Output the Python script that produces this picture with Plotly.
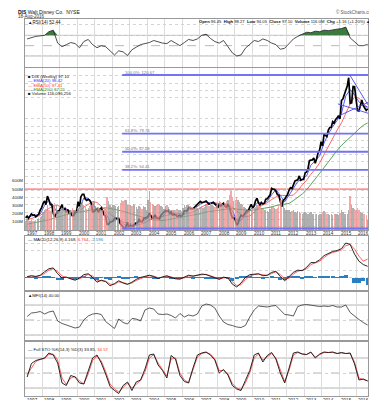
import plotly.graph_objects as go
import numpy as np

# ---------------- data ----------------
years = list(range(1997, 2017))

# monthly closes, Jan 1997 .. Aug 2016
close = [
    20.9, 22.1, 20.7, 22.4, 23.6, 22.8, 23.0, 21.7, 22.9, 23.4, 26.4, 28.1,
    31.0, 32.7, 30.1, 36.1, 33.5, 30.1, 30.1, 24.1, 21.5, 23.2, 25.8, 25.8,
    28.4, 30.1, 26.7, 27.5, 24.9, 26.7, 24.1, 24.1, 22.4, 22.4, 24.9, 24.9,
    32.2, 28.7, 35.7, 37.4, 37.4, 33.9, 33.1, 33.9, 33.1, 31.3, 25.2, 25.2,
    26.4, 27.3, 25.2, 26.4, 27.8, 25.5, 22.9, 22.0, 16.4, 16.4, 18.0, 18.2,
    18.7, 20.5, 20.5, 20.5, 20.5, 16.9, 15.8, 14.0, 13.4, 14.9, 17.6, 14.5,
    15.8, 15.1, 15.3, 16.8, 17.6, 17.8, 19.8, 18.3, 18.2, 20.3, 20.8, 21.0,
    21.6, 24.3, 22.5, 20.7, 21.2, 23.0, 20.7, 20.3, 20.3, 22.7, 24.2, 25.0,
    26.0, 25.4, 26.1, 24.0, 24.9, 22.9, 23.3, 22.9, 21.9, 22.2, 22.7, 21.8,
    23.3, 25.8, 25.7, 25.8, 28.1, 27.6, 27.3, 27.2, 28.4, 29.0, 30.4, 31.6,
    32.4, 31.5, 31.6, 32.2, 32.6, 31.4, 30.4, 30.9, 31.6, 31.8, 30.5, 29.7,
    27.8, 30.1, 29.2, 30.1, 31.2, 29.0, 28.3, 30.1, 28.6, 24.1, 20.9, 21.1,
    19.5, 15.8, 17.1, 20.6, 22.7, 21.9, 23.6, 24.4, 25.9, 25.8, 28.4, 30.3,
    27.8, 29.3, 32.8, 34.6, 31.4, 29.6, 31.7, 30.6, 31.1, 33.9, 34.3, 35.3,
    37.0, 41.5, 40.9, 40.9, 39.5, 37.1, 36.7, 32.5, 28.7, 33.2, 34.0, 35.6,
    37.3, 40.3, 42.0, 41.4, 43.9, 46.6, 47.1, 47.5, 50.2, 47.1, 47.7, 47.8,
    52.3, 53.0, 55.1, 60.9, 61.2, 61.3, 62.8, 59.1, 62.6, 66.5, 68.4, 74.1,
    71.1, 79.3, 78.5, 77.7, 82.3, 84.0, 84.2, 88.2, 87.2, 89.6, 90.7, 92.3,
    90.1, 103.0, 103.9, 107.6, 109.3, 113.0, 118.8, 100.9, 101.2, 112.6, 112.4, 104.0,
    95.8, 95.5, 99.3, 103.3, 99.2, 97.8, 96.0, 97.1,
]

# monthly volume (millions of shares per week)
volume_m = [
    110, 130, 120, 110, 120, 110, 115, 120, 130, 150, 160, 170,
    220, 250, 260, 300, 250, 230, 240, 290, 330, 300, 250, 230,
    260, 270, 290, 240, 250, 230, 220, 240, 270, 250, 240, 230,
    270, 290, 320, 340, 300, 280, 260, 270, 290, 310, 340, 350,
    290, 270, 280, 260, 240, 250, 270, 280, 400, 350, 300, 280,
    300, 310, 290, 280, 290, 330, 370, 350, 370, 360, 310, 300,
    310, 290, 320, 300, 280, 260, 290, 280, 260, 290, 280, 250,
    360, 470, 340, 320, 300, 290, 310, 320, 300, 290, 280, 260,
    290, 300, 280, 260, 250, 240, 250, 240, 260, 250, 240, 230,
    270, 300, 280, 300, 310, 290, 280, 270, 260, 280, 270, 260,
    280, 290, 270, 280, 310, 300, 290, 330, 310, 290, 280, 300,
    330, 350, 340, 320, 310, 330, 350, 370, 430, 470, 400, 350,
    360, 400, 370, 340, 320, 300, 280, 270, 260, 250, 240, 230,
    260, 270, 280, 300, 320, 290, 270, 260, 250, 240, 230, 220,
    260, 290, 280, 270, 260, 270, 290, 360, 370, 320, 270, 240,
    250, 240, 220, 230, 240, 220, 210, 230, 220, 210, 200, 210,
    220, 210, 200, 210, 220, 200, 190, 200, 190, 180, 190, 200,
    220, 230, 210, 200, 190, 180, 190, 180, 190, 200, 190, 180,
    210, 240, 220, 200, 190, 200, 240, 410, 300, 270, 260, 250,
    270, 250, 220, 210, 200, 190, 180, 116,
]

# quarterly samples (mid Feb / May / Aug / Nov), 1997 .. Aug 2016
ma_fast = [21.0, 22.2, 22.8, 23.6, 29.6, 33.1, 29.5, 23.7, 27.5, 27.3, 25.0, 23.5,
           27.7, 34.8, 34.6, 30.9, 26.0, 26.7, 24.6, 18.2, 18.9, 20.5, 16.8, 15.0,
           15.8, 16.2, 18.4, 19.4, 21.9, 22.2, 21.3, 21.9, 25.2, 25.1, 23.5, 22.4,
           23.4, 26.4, 27.6, 28.8, 31.5, 32.0, 31.3, 31.2, 29.5, 30.2, 29.7, 25.9,
           19.3, 19.1, 23.2, 26.1, 29.0, 32.0, 30.8, 32.5, 37.0, 40.7, 36.5, 32.1,
           36.8, 41.9, 46.3, 48.1, 50.2, 57.6, 61.1, 64.2, 73.2, 79.5, 84.7, 88.9,
           94.0, 106.0, 110.5, 106.8, 101.9, 99.3, 98.42]
ma_mid = [19.5, 20.5, 21.5, 22.6, 24.9, 27.6, 29.0, 29.7, 28.2, 26.5, 25.7, 25.7,
          25.8, 28.4, 30.6, 32.2, 31.7, 29.1, 26.5, 23.3, 21.5, 20.0, 18.0, 17.6,
          16.6, 15.6, 16.4, 17.5, 19.3, 20.5, 21.2, 21.9, 22.7, 23.6, 24.0, 23.9,
          23.5, 23.9, 25.0, 26.7, 28.8, 30.2, 31.0, 31.5, 30.9, 30.4, 30.0, 28.3,
          25.7, 23.2, 21.7, 22.2, 24.8, 28.0, 29.9, 31.5, 33.7, 35.5, 36.7, 36.4,
          36.4, 36.9, 39.8, 43.9, 47.2, 51.4, 54.9, 59.3, 65.2, 70.3, 76.4, 82.2,
          87.3, 94.2, 100.5, 105.4, 104.5, 101.0, 97.41]
ma_slow = [16.5, 17.0, 17.5, 18.0, 18.5, 19.5, 20.5, 21.5, 22.5, 23.5, 24.0, 24.5,
           25.0, 26.0, 26.5, 27.0, 27.5, 28.0, 28.0, 27.5, 27.0, 26.5, 25.5, 24.5,
           23.5, 22.5, 21.5, 20.5, 20.0, 19.5, 19.0, 19.0, 19.5, 20.0, 20.5, 21.0,
           21.5, 22.5, 23.0, 23.5, 24.0, 25.0, 25.5, 26.0, 26.5, 27.0, 27.5, 27.5,
           27.0, 26.5, 26.0, 26.0, 26.5, 27.0, 27.0, 27.5, 28.5, 29.5, 30.0, 30.0,
           31.0, 33.0, 35.0, 37.5, 40.5, 44.0, 48.0, 52.0, 56.0, 60.0, 64.0, 68.0,
           71.5, 74.5, 77.0, 80.0, 83.0, 85.5, 87.25]
rsi = [63, 66, 68, 69, 70, 77, 80, 55, 48, 52, 56, 54, 46, 58, 62, 52, 46, 50, 48, 40,
       32, 40, 38, 31, 42, 47, 52, 54, 56, 60, 57, 55, 54, 60, 55, 50, 56, 62, 60, 63,
       70, 72, 64, 58, 55, 60, 48, 36, 30, 32, 45, 52, 60, 58, 63, 60, 55, 52, 43, 45,
       55, 63, 68, 72, 76, 75, 78, 77, 80, 79, 81, 82, 83, 86, 65, 58, 50, 50, 52.44]
macd = [0.5, 0.8, 0.5, 1.0, 2.2, 3.3, 3.6, 1.5, 0.0, 0.3, -0.3, -0.8, 0.0, 1.2, 1.5, 0.2,
        -1.5, -0.8, -1.3, -2.8, -2.0, -1.0, -1.8, -2.3, -1.5, -0.5, 0.2, 0.6, 1.0, 0.5, -0.2, 0.4,
        0.8, 0.2, -0.3, -0.4, 0.3, 1.0, 0.6, 1.0, 1.4, 1.2, 0.6, 0.0, -0.5, 0.3, 0.0, -2.2,
        -3.2, -1.8, 0.2, 1.2, 1.4, 1.5, 0.8, 1.0, 2.0, 2.4, 0.5, -1.0, 0.5, 2.0, 2.8, 2.6,
        3.8, 5.5, 5.5, 6.5, 8.0, 8.8, 9.5, 9.8, 10.5, 12.5, 12.0, 8.5, 6.0, 4.8, 4.168]
signal = [0.3, 0.7, 0.6, 0.8, 1.6, 2.8, 3.3, 2.3, 0.7, 0.3, 0.0, -0.6, -0.3, 0.6, 1.3, 0.7,
          -0.8, -1.0, -1.1, -2.2, -2.3, -1.4, -1.6, -2.1, -1.8, -0.9, -0.1, 0.4, 0.8, 0.7, 0.1, 0.2,
          0.6, 0.4, -0.1, -0.3, 0.0, 0.7, 0.8, 0.9, 1.2, 1.3, 0.8, 0.3, -0.3, 0.0, 0.1, -1.3,
          -2.7, -2.4, -0.6, 0.7, 1.2, 1.4, 1.1, 0.9, 1.6, 2.2, 1.2, -0.3, -0.1, 1.4, 2.4, 2.7,
          3.2, 4.8, 5.3, 6.0, 7.3, 8.4, 9.1, 9.5, 10.0, 11.5, 12.0, 10.3, 7.8, 6.0, 6.764]
hist = [0.2, 0.1, -0.1, 0.2, 0.6, 0.5, 0.3, -0.8, -0.7, 0.0, -0.3, -0.2, 0.3, 0.6, 0.2, -0.5,
        -0.7, 0.2, -0.2, -0.6, 0.3, 0.4, -0.2, -0.2, 0.3, 0.4, 0.3, 0.2, 0.2, -0.2, -0.3, 0.2,
        0.2, -0.2, -0.2, -0.1, 0.3, 0.3, -0.2, 0.1, 0.2, -0.1, -0.2, -0.3, -0.2, 0.3, -0.1, -0.9,
        -0.5, 0.6, 0.8, 0.5, 0.2, 0.1, -0.3, 0.1, 0.4, 0.2, -0.7, -0.7, 0.6, 0.6, 0.4, -0.1,
        0.6, 0.7, 0.2, 0.5, 0.7, 0.4, 0.4, 0.3, 0.5, 1.0, 0.0, -1.8, -1.8, -1.2, -2.596]
mfi = [57, 64, 65, 67, 62, 66, 68, 48, 43, 40, 37, 34, 36, 50, 58, 62, 63, 61, 47, 40,
       33, 52, 45, 42, 53, 52, 48, 70, 74, 72, 62, 61, 62, 59, 54, 63, 56, 60, 58, 62,
       78, 82, 80, 74, 58, 46, 41, 39, 36, 35, 39, 56, 70, 78, 77, 76, 78, 79, 70, 61,
       60, 58, 77, 80, 81, 80, 79, 77, 78, 77, 79, 76, 76, 80, 65, 57, 51, 45, 40.0]
sto_k = [42, 69, 75, 78, 80, 90, 86, 70, 30, 25, 45, 42, 30, 28, 55, 80, 86, 70, 48, 23,
         15, 9, 25, 32, 15, 32, 36, 58, 86, 88, 66, 55, 40, 85, 78, 45, 33, 30, 60, 86,
         90, 92, 86, 76, 50, 57, 46, 25, 18, 15, 35, 55, 86, 90, 72, 85, 91, 78, 50, 30,
         60, 90, 92, 88, 87, 92, 80, 88, 92, 91, 92, 89, 91, 89, 90, 68, 36, 38, 33.85]
sto_d = [47, 60, 73, 77, 79, 87, 88, 76, 40, 27, 40, 43, 34, 28, 48, 75, 84, 74, 53, 28,
         18, 12, 21, 30, 20, 28, 35, 52, 80, 87, 70, 57, 44, 78, 80, 50, 36, 31, 55, 82,
         89, 91, 88, 78, 55, 55, 48, 29, 20, 17, 30, 50, 80, 88, 76, 83, 89, 80, 55, 33,
         55, 86, 91, 88, 87, 91, 82, 87, 91, 91, 91, 89, 90, 89, 89, 72, 40, 37, 34.57]

fib_names = ["100.0%", "61.8%", "50.0%", "38.2%", "0.0%"]
fib_vals = [120.67, 79.74, 67.08, 54.41, 13.48]
resist_red = 41.0
# trendlines drawn on the price panel: (start date, start value, end value)
trend_lines = [("2015-08-07", 120.67, 99.8), ("2014-12-01", 100.5, 94.0), ("2015-01-15", 92.5, 101.5)]

price_ticks = [15, 20, 25, 30, 35, 40, 45, 50, 55, 60, 65, 70, 75, 80, 85, 90, 105, 110, 115, 120]
volume_ticks = [1e8, 2e8, 3e8, 4e8, 5e8, 6e8]
volume_tick_text = ["100M", "200M", "300M", "400M", "500M", "600M"]

# ---------------- helpers ----------------
W, H = 377, 400
mdates = [f"{y}-{m:02d}-15" for y in years for m in range(1, 13)][:len(close)]
qdates = [f"{y}-{m:02d}-15" for y in years for m in (2, 5, 8, 11)][:len(rsi)]
XR = ["1997-01-01", "2016-08-22"]
XL, XRp = 17, 360


def py(p):
    return 1 - p / H


def px(p):
    return p / W


panels = {  # (top px, bottom px, range)
    "y": (11, 59, [8.7, 101.6]),
    "y2": (60, 222, [12.43, 125.56]),
    "y4": (228, 282, [-4.29, 15.0]),
    "y5": (284, 332, [10, 106]),
    "y6": (334, 388, [4, 112]),
}
xmap = {"y": "x", "y2": "x2", "y4": "x3", "y5": "x4", "y6": "x5"}

FONT = "Liberation Sans, Arial, sans-serif"
fig = go.Figure()

# volume
vcol = ["rgba(150,150,150,0.75)" if (i == 0 or close[i] >= close[i - 1]) else "rgba(240,140,140,0.75)"
        for i in range(len(close))]
fig.add_trace(go.Bar(x=mdates, y=[v * 1e6 for v in volume_m], marker_color=vcol,
                     marker_line_width=0, xaxis="x2", yaxis="y3"))
# moving averages
fig.add_trace(go.Scatter(x=qdates, y=ma_slow, mode="lines", line=dict(color="#2e8b2e", width=0.8),
                         xaxis="x2", yaxis="y2"))
fig.add_trace(go.Scatter(x=qdates, y=ma_mid, mode="lines", line=dict(color="#ff4040", width=0.8),
                         xaxis="x2", yaxis="y2"))
fig.add_trace(go.Scatter(x=qdates, y=ma_fast, mode="lines", line=dict(color="#3030ff", width=0.8),
                         xaxis="x2", yaxis="y2"))
# price
fig.add_trace(go.Scatter(x=mdates, y=close, mode="lines", line=dict(color="black", width=1.7),
                         xaxis="x2", yaxis="y2"))

# RSI
fig.add_trace(go.Scatter(x=qdates, y=[70] * len(rsi), mode="lines", line=dict(width=0),
                         xaxis="x", yaxis="y", hoverinfo="skip"))
fig.add_trace(go.Scatter(x=qdates, y=np.maximum(np.array(rsi), 70), mode="lines", line=dict(width=0),
                         fill="tonexty", fillcolor="#3d7a3d", xaxis="x", yaxis="y"))
fig.add_trace(go.Scatter(x=qdates, y=rsi, mode="lines", line=dict(color="#222", width=0.8),
                         xaxis="x", yaxis="y"))

# MACD
fig.add_trace(go.Bar(x=qdates, y=hist, marker_color="#2a7fc0", marker_line_width=0,
                     xaxis="x3", yaxis="y4"))
fig.add_trace(go.Scatter(x=qdates, y=signal, mode="lines", line=dict(color="#ff5050", width=0.9),
                         xaxis="x3", yaxis="y4"))
fig.add_trace(go.Scatter(x=qdates, y=macd, mode="lines", line=dict(color="#111", width=0.9),
                         xaxis="x3", yaxis="y4"))
# MFI
fig.add_trace(go.Scatter(x=qdates, y=mfi, mode="lines", line=dict(color="#333", width=0.8),
                         xaxis="x4", yaxis="y5"))
# Full stochastics
fig.add_trace(go.Scatter(x=qdates, y=sto_d, mode="lines", line=dict(color="#ff5050", width=0.9),
                         xaxis="x5", yaxis="y6"))
fig.add_trace(go.Scatter(x=qdates, y=sto_k, mode="lines", line=dict(color="#111", width=0.9),
                         xaxis="x5", yaxis="y6"))

# ---------------- axes ----------------
lay = dict(width=W, height=H, margin=dict(l=0, r=0, t=0, b=0), showlegend=False,
           paper_bgcolor="white", plot_bgcolor="white", bargap=0, barmode="overlay",
           font=dict(family=FONT, size=5, color="#333"))
for ya, (top, bot, rng) in panels.items():
    xa = xmap[ya]
    xkey = "xaxis" if xa == "x" else "xaxis" + xa[1:]
    ykey = "yaxis" if ya == "y" else "yaxis" + ya[1:]
    lay[xkey] = dict(domain=[px(XL), px(XRp)], range=XR, anchor=ya, showticklabels=False,
                     showgrid=True, gridcolor="#dcdcdc", gridwidth=0.6, dtick="M12", tick0="1997-01-01",
                     showline=True, linecolor="#999", linewidth=0.6, mirror=True, ticks="", ticklen=0,
                     zeroline=False)
    if xa != "x2":
        lay[xkey]["matches"] = "x2"
    lay[ykey] = dict(domain=[py(bot), py(top)], range=rng, anchor=xa, side="right",
                     showgrid=True, gridcolor="#d4d4d4", griddash="dot", gridwidth=0.6,
                     showline=True, linecolor="#999", linewidth=0.6, mirror=True, ticks="", ticklen=0,
                     zeroline=False, tickfont=dict(size=4.4, color="#222"), ticklabelstandoff=0,
                     automargin=False)
lay["yaxis"].update(tickvals=[10, 30, 70, 90])
lay["yaxis2"].update(tickvals=price_ticks)
lay["yaxis4"].update(tickvals=[0, 2.5, 10, 12.5], ticktext=["0.0", "2.5", "10.0", "12.5"])
lay["yaxis5"].update(tickvals=[20, 50, 80])
lay["yaxis6"].update(tickvals=[20, 50, 80])
lay["yaxis3"] = dict(overlaying="y2", range=[0, (222 - 60) / 8.2 * 1e8], side="left",
                     tickvals=volume_ticks, ticktext=volume_tick_text, automargin=False,
                     showgrid=False, zeroline=False, ticks="", ticklen=0,
                     tickfont=dict(size=4.4, color="#222"), ticklabelstandoff=1, anchor="x2")
fig.update_layout(**lay)

shapes = []


def hline(xa, ya, yv, color, width=0.7, dash="solid", x0=None):
    if x0 is None:
        shapes.append(dict(type="line", xref=f"{xa} domain", yref=ya, x0=0, x1=1, y0=yv, y1=yv,
                           line=dict(color=color, width=width, dash=dash), layer="below"))
    else:
        shapes.append(dict(type="line", xref=xa, yref=ya, x0=x0, x1=XR[1], y0=yv, y1=yv,
                           line=dict(color=color, width=width, dash=dash)))


for v in (70, 30):
    hline("x", "y", v, "#999")
hline("x", "y", 50, "#999", dash="dash")
for v in (80, 20):
    hline("x4", "y5", v, "#999")
    hline("x5", "y6", v, "#999")
hline("x4", "y5", 50, "#999", dash="dash")
hline("x5", "y6", 50, "#999", dash="dash")
hline("x2", "y2", resist_red, "#ff3030", width=0.9)
for v in fib_vals:
    hline("x2", "y2", v, "#7272f2", width=1.8, x0="2002-07-26")
for d0, v0, v1 in trend_lines:
    shapes.append(dict(type="line", xref="x2", yref="y2", x0=d0, x1=XR[1], y0=v0, y1=v1,
                       line=dict(color="#4a4af0", width=0.9)))
fig.update_layout(shapes=shapes)

ann = []


def text(x, y, s, size=5, color="#333", xanchor="left", **kw):
    ann.append(dict(x=px(x), y=py(y), xref="paper", yref="paper", text=s, showarrow=False,
                    xanchor=xanchor, yanchor="middle", borderpad=0,
                    font=dict(size=size, color=color, family=FONT), **kw))


text(9, 4, "<b>DIS</b> Walt Disney Co.  NYSE", size=5, color="#111")
text(9, 9, "18-Aug-2016", size=4.5)
text(347, 4, "© StockCharts.com", size=4.5, color="#555", xanchor="center")
text(190, 13.5, "<b>Open</b> 96.45  <b>High</b> 98.27  <b>Low</b> 94.05  <b>Close</b> 97.10  "
               "<b>Volume</b> 116.0M  <b>Chg</b> +1.16 (+1.20%) ▲", size=4.2, color="#111")
text(19, 14, "▲RSI(14) 52.44", size=4.5, color="#111")
text(19, 68, "■ DIS (Weekly) 97.10", size=4.3, color="#111")
text(19, 72.5, "<span style='color:#3030ff'>— EMA(20) 98.42</span>", size=4.3)
text(19, 77, "<span style='color:#ff3030'>— EMA(50) 97.41</span>", size=4.3)
text(19, 81.5, "<span style='color:#2e8b2e'>— EMA(200) 87.25</span>", size=4.3)
text(19, 86, "■ Volume 116,096,256", size=4.3, color="#111")
text(19, 232, "— MACD(12,26,9) 4.168, <span style='color:#ff3030'>6.764</span>, "
              "<span style='color:#2a7fc0'>-2.596</span>", size=4.3, color="#111")
text(19, 287, "▲MFI(14) 40.00", size=4.3, color="#111")
text(19, 341, "— Full STO %K(14,3) %D(3) 33.85, <span style='color:#ff3030'>34.57</span>",
     size=4.3, color="#111")

# fib labels
for name, v in zip(fib_names[:4], fib_vals[:4]):
    ypx = 67 + (120.67 - v) * 1.432
    text(116, ypx - 3, f"{name}: {v:.2f}", size=4.2, color="#777")

# year labels (under the price panel and at the bottom)
for yv in years:
    for ypx in (225.5, 392.5):
        ann.append(dict(x=f"{yv}-01-01", y=py(ypx), xref="x2", yref="paper", text=str(yv),
                        showarrow=False, xanchor="left", yanchor="middle", xshift=0.5, borderpad=0,
                        font=dict(size=4.6, color="#333", family=FONT)))


def box(ypx, s, color):
    ann.append(dict(x=px(376.5), y=py(ypx), xref="paper", yref="paper", text=s, showarrow=False,
                    xanchor="right", yanchor="middle", bgcolor="white", bordercolor=color,
                    borderwidth=0.5, borderpad=0, font=dict(size=4.0, color="#111", family=FONT)))


box(37, "52.44", "#333")
box(98, "97.10", "#111")
box(104, "87.25", "#2e8b2e")
box(251, "6.764", "#ff3030")
box(258, "4.168", "#111")
box(279, "-2.596", "#2a7fc0")
box(317, "40.00", "#333")
box(372, "33.85", "#333")
fig.update_layout(annotations=ann)

fig.write_html("out.html")
